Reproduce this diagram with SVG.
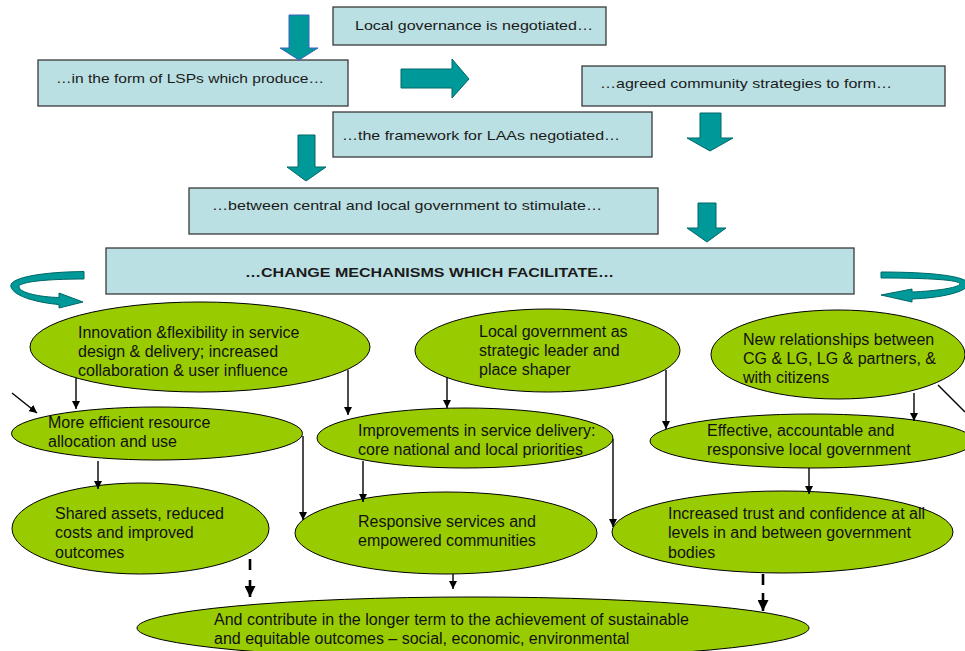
<svg xmlns="http://www.w3.org/2000/svg" width="965" height="651" viewBox="0 0 965 651">
<defs>
<style>
.box rect{fill:#BBE0E3;stroke:#3a3a3a;stroke-width:1.3}
.box text{font-family:"Liberation Sans",Arial,sans-serif;font-size:13.5px;fill:#1a1a1a}
.big{fill:#009999;stroke:#006666;stroke-width:1}
.ell ellipse{fill:#99CC00;stroke:#000;stroke-width:1}
.ell text{font-family:"Liberation Sans",Arial,sans-serif;font-size:16px;fill:#111}
.con line{stroke:#000;stroke-width:1.4;marker-end:url(#ah)}
.con line.d{stroke-width:2.6;marker-end:url(#ahb)}
</style>
<marker id="ah" viewBox="0 0 10 10" refX="10" refY="5" markerWidth="8" markerHeight="8" markerUnits="userSpaceOnUse" orient="auto"><path d="M0,0 L10,5 L0,10 Z" fill="#000"/></marker>
<marker id="ahb" viewBox="0 0 10 10" refX="10" refY="5" markerWidth="11" markerHeight="11" markerUnits="userSpaceOnUse" orient="auto"><path d="M0,0 L10,5 L0,10 Z" fill="#000"/></marker>
</defs>
<rect width="965" height="651" fill="#fff"/>

<g id="box-local-governance" class="box"><rect x="333" y="7" width="273" height="38"/><text x="355" y="30" textLength="238" lengthAdjust="spacingAndGlyphs">Local governance is negotiated…</text></g>
<g id="box-lsps" class="box"><rect x="38" y="60" width="310" height="46"/><text x="56" y="83" textLength="268" lengthAdjust="spacingAndGlyphs">…in the form of LSPs which produce…</text></g>
<g id="box-agreed" class="box"><rect x="582" y="66" width="363" height="40"/><text x="600" y="88" textLength="292" lengthAdjust="spacingAndGlyphs">…agreed community strategies to form…</text></g>
<g id="box-framework" class="box"><rect x="333" y="112" width="319" height="45"/><text x="342" y="140" textLength="278" lengthAdjust="spacingAndGlyphs">…the framework for LAAs negotiated…</text></g>
<g id="box-between" class="box"><rect x="189" y="188" width="469" height="46"/><text x="212" y="210" textLength="390" lengthAdjust="spacingAndGlyphs">…between central and local government to stimulate…</text></g>
<g id="box-change" class="box"><rect x="106" y="248" width="748" height="46"/><text x="245" y="277" font-weight="bold" textLength="369" lengthAdjust="spacingAndGlyphs">…CHANGE MECHANISMS WHICH FACILITATE…</text></g>

<g id="block-arrows">
<path class="big" style="stroke:#4060c0" d="M289,15 H309 V48 H318 L299,60 L280,48 H289 Z"/>
<path class="big" d="M401,69 H452 V59 L469,79 L452,98 V88 H401 Z"/>
<path class="big" d="M700,113 H721 V138 H733 L710,151 L687,138 H700 Z"/>
<path class="big" d="M298,135 H315 V167 H326 L306,181 L287,167 H298 Z"/>
<path class="big" d="M698,203 H716 V228 H726 L707,242 L687,228 H698 Z"/>
<path class="big" d="M84,271.5 C40,272 8,278 11,287 C14,297 40,303 59,304.5 L59,308 L83,302 L59,293 L59,297.5 C40,297 20,293 19,287 C18,282 45,279 84,279 Z"/>
<path class="big" d="M881,272 C930,272 968,276 968,284 C968,292 940,298 912,299 L912,302 L881,295 L912,289 L912,292 C935,291 958,288 960,284 C960,280 930,278 881,278 Z"/>
</g>

<g id="e-innovation" class="ell"><ellipse cx="200" cy="347" rx="170" ry="45"/><text x="78" y="338">Innovation &amp;flexibility in service</text><text x="78" y="357">design &amp; delivery; increased</text><text x="78" y="376">collaboration &amp; user influence</text></g>
<g id="e-local-gov" class="ell"><ellipse cx="547.5" cy="350.5" rx="132.5" ry="41.5"/><text x="479" y="337">Local government as</text><text x="479" y="356">strategic leader and</text><text x="479" y="375">place shaper</text></g>
<g id="e-new-rel" class="ell"><ellipse cx="838" cy="354.5" rx="127" ry="44.5"/><text x="743" y="345">New relationships between</text><text x="743" y="364">CG &amp; LG, LG &amp; partners, &amp;</text><text x="743" y="383">with citizens</text></g>
<g id="e-efficient" class="ell"><ellipse cx="157" cy="433.5" rx="145.5" ry="26.5"/><text x="48" y="428">More efficient resource</text><text x="48" y="447">allocation and use</text></g>
<g id="e-improvements" class="ell"><ellipse cx="465" cy="438" rx="148" ry="30"/><text x="358" y="436">Improvements in service delivery:</text><text x="358" y="455">core national and local priorities</text></g>
<g id="e-effective" class="ell"><ellipse cx="812" cy="441" rx="162" ry="27"/><text x="707" y="436">Effective, accountable and</text><text x="707" y="455">responsive local government</text></g>
<g id="e-shared" class="ell"><ellipse cx="140.5" cy="528.5" rx="128.5" ry="45.5"/><text x="55" y="519">Shared assets, reduced</text><text x="55" y="538">costs and improved</text><text x="55" y="558">outcomes</text></g>
<g id="e-responsive" class="ell"><ellipse cx="446" cy="533" rx="151" ry="41"/><text x="358" y="527">Responsive services and</text><text x="358" y="546">empowered communities</text></g>
<g id="e-trust" class="ell"><ellipse cx="782.5" cy="532" rx="170.5" ry="41"/><text x="668" y="519">Increased trust and confidence at all</text><text x="668" y="538">levels in and between government</text><text x="668" y="558">bodies</text></g>
<g id="e-contribute" class="ell"><ellipse cx="473" cy="628" rx="336" ry="31"/><text x="214" y="625">And contribute in the longer term to the achievement of sustainable</text><text x="214" y="644">and equitable outcomes – social, economic, environmental</text></g>

<g id="connectors" class="con">
<line x1="12" y1="393" x2="37" y2="413"/>
<line x1="76" y1="378" x2="76" y2="409"/>
<line x1="348" y1="370" x2="348" y2="415"/>
<line x1="447" y1="377" x2="447" y2="408"/>
<line x1="666" y1="370" x2="666" y2="429"/>
<line x1="914" y1="393" x2="914" y2="421"/>
<line x1="938" y1="385" x2="965" y2="412" style="marker-end:none"/>
<line x1="98" y1="461" x2="98" y2="489"/>
<line x1="303" y1="436" x2="303" y2="520"/>
<line x1="363" y1="461" x2="363" y2="502"/>
<line x1="613" y1="439" x2="613" y2="527"/>
<line x1="809" y1="468" x2="809" y2="494"/>
<line x1="453" y1="574" x2="453" y2="589"/>
<line class="d" x1="250" y1="559" x2="250" y2="597" stroke-dasharray="11 10 40"/>
<line class="d" x1="763" y1="574" x2="763" y2="611" stroke-dasharray="11 8 40"/>
</g>
</svg>
